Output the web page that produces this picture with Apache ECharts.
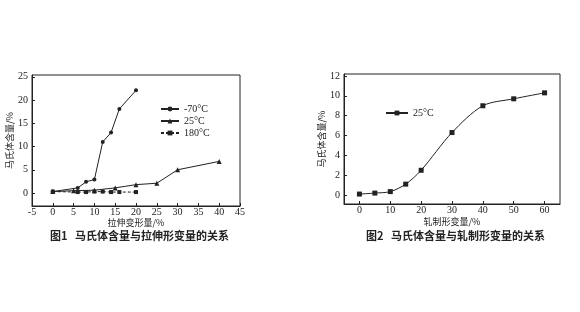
<!DOCTYPE html>
<html>
<head>
<meta charset="utf-8">
<script src="https://cdn.jsdelivr.net/npm/echarts@6/dist/echarts.min.js"></script>
<style>
  html, body { margin: 0; padding: 0; background: #fff; }
  #chart { width: 580px; height: 312px; }
</style>
</head>
<body>
<div id="chart"></div>
<script>
// 图1 拉伸形变量
const tensileX70 = [0, 6, 8, 10, 12, 14, 16, 20]
const tensileY70 = [0.3, 1.1, 2.4, 2.9, 11, 13, 18.1, 22.1]
const tensileX25 = [0, 5, 10, 15, 20, 25, 30, 40]
const tensileY25 = [0.3, 0.5, 0.6, 1.1, 1.8, 2.1, 5, 6.8]
const tensileX180 = [0, 6, 8, 10, 12, 14, 16, 20]
const tensileY180 = [0.3, 0.2, 0.2, 0.3, 0.3, 0.2, 0.2, 0.2]
const tensileXTicks = [-5, 0, 5, 10, 15, 20, 25, 30, 35, 40, 45]
const tensileYTicks = [0, 5, 10, 15, 20, 25]

// 图2 轧制形变量
const rollX = [0, 5, 10, 15, 20, 30, 40, 50, 60]
const rollY = [0.1, 0.2, 0.35, 1.1, 2.5, 6.3, 9, 9.7, 10.3]
const rollXTicks = [0, 10, 20, 30, 40, 50, 60]
const rollYTicks = [0, 2, 4, 6, 8, 10, 12]

const serif = 'Liberation Serif'
const cjk = 'Noto Sans CJK SC'
const ink = '#222'

function pairs(xs, ys) {
  return xs.map((x, i) => [x, ys[i]])
}

function xAxisOf(grid, min, max, ticks, name, nameGap) {
  return {
    type: 'value', gridIndex: grid, min: min, max: max,
    name: name, nameLocation: 'middle', nameGap: nameGap,
    nameTextStyle: { fontFamily: cjk, fontSize: 9, color: ink },
    axisLine: { onZero: false, lineStyle: { color: ink, width: 1 } },
    axisTick: { inside: true, length: 3, customValues: ticks, lineStyle: { color: ink } },
    axisLabel: { customValues: ticks, fontFamily: serif, fontSize: 10, color: ink, margin: 1 },
    splitLine: { show: false }
  }
}

function yAxisOf(grid, min, max, ticks, nameGap) {
  return {
    type: 'value', gridIndex: grid, min: min, max: max,
    name: '马氏体含量/%', nameLocation: 'middle', nameGap: nameGap,
    nameTextStyle: { fontFamily: cjk, fontSize: 9, color: ink },
    axisLine: { onZero: false, lineStyle: { color: ink, width: 1 } },
    axisTick: { inside: true, length: 3, customValues: ticks, lineStyle: { color: ink } },
    axisLabel: { customValues: ticks, fontFamily: serif, fontSize: 10, color: ink, margin: 4 },
    splitLine: { show: false }
  }
}

const chart = echarts.init(document.getElementById('chart'), null, { renderer: 'canvas' })

chart.setOption({
  backgroundColor: '#fff',
  animation: false,
  grid: [
    { left: 32, top: 75, width: 208, height: 131, show: true, borderColor: ink, borderWidth: 1 },
    { left: 344, top: 74, width: 216, height: 130, show: true, borderColor: ink, borderWidth: 1 }
  ],
  xAxis: [
    xAxisOf(0, -5, 45, tensileXTicks, '拉伸变形量/%', 11),
    xAxisOf(1, -5, 65, rollXTicks, '轧制形变量/%', 13)
  ],
  yAxis: [
    yAxisOf(0, -2.8, 25.4, tensileYTicks, 18),
    yAxisOf(1, -0.9, 12.2, rollYTicks, 16)
  ],
  legend: [
    {
      left: 155, top: 99, orient: 'vertical', itemGap: 2,
      itemWidth: 18, itemHeight: 6,
      textStyle: { fontFamily: serif, fontSize: 10, color: ink },
      data: ['-70°C', '25°C', '180°C']
    },
    {
      left: 380, top: 103, itemWidth: 22, itemHeight: 6,
      textStyle: { fontFamily: serif, fontSize: 10, color: ink },
      data: [{ name: '25°C ' }]
    }
  ],
  title: [
    {
      text: '图1   马氏体含量与拉伸形变量的关系', left: 45, top: 225,
      textStyle: { fontFamily: cjk, fontSize: 11, fontWeight: 'bold', color: ink }
    },
    {
      text: '图2   马氏体含量与轧制形变量的关系', left: 361, top: 225,
      textStyle: { fontFamily: cjk, fontSize: 11, fontWeight: 'bold', color: ink }
    }
  ],
  series: [
    {
      name: '-70°C', type: 'line', xAxisIndex: 0, yAxisIndex: 0,
      data: pairs(tensileX70, tensileY70),
      symbol: 'circle', symbolSize: 4,
      lineStyle: { color: ink, width: 1 }, itemStyle: { color: ink }
    },
    {
      name: '25°C', type: 'line', xAxisIndex: 0, yAxisIndex: 0,
      data: pairs(tensileX25, tensileY25),
      symbol: 'triangle', symbolSize: 5,
      lineStyle: { color: ink, width: 1 }, itemStyle: { color: ink }
    },
    {
      name: '180°C', type: 'line', xAxisIndex: 0, yAxisIndex: 0,
      data: pairs(tensileX180, tensileY180),
      symbol: 'rect', symbolSize: 4,
      lineStyle: { color: ink, width: 1, type: [3, 2] }, itemStyle: { color: ink }
    },
    {
      name: '25°C ', type: 'line', xAxisIndex: 1, yAxisIndex: 1,
      data: pairs(rollX, rollY),
      smooth: 0.3,
      symbol: 'rect', symbolSize: 5,
      lineStyle: { color: ink, width: 1 }, itemStyle: { color: ink }
    }
  ]
})
</script>
</body>
</html>
